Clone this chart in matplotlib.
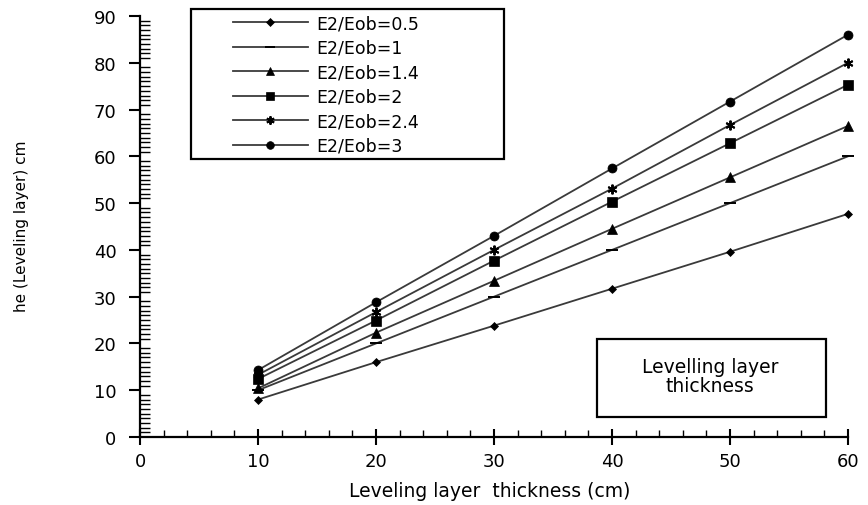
import matplotlib.pyplot as plt
from matplotlib.patches import Rectangle
from matplotlib.ticker import MultipleLocator

plt.rcParams['font.family'] = ['DejaVu Sans']

# Data
thickness = [10, 20, 30, 40, 50, 60]
ratio_labels = ["E2/Eob=0.5", "E2/Eob=1", "E2/Eob=1.4", "E2/Eob=2", "E2/Eob=2.4", "E2/Eob=3"]
he_05 = [8.0, 16.0, 23.8, 31.7, 39.6, 47.7]
he_1 = [10.0, 20.0, 30.0, 40.0, 50.0, 60.0]
he_14 = [10.4, 22.3, 33.4, 44.5, 55.5, 66.5]
he_2 = [12.4, 24.9, 37.7, 50.3, 62.8, 75.3]
he_24 = [13.3, 26.7, 40.0, 53.1, 66.7, 80.0]
he_3 = [14.3, 28.8, 43.0, 57.4, 71.7, 86.0]

series = [he_05, he_1, he_14, he_2, he_24, he_3]
markers = ["D", "_", "^", "s", (6, 2, 0), "o"]
msizes = [4.5, 8, 6.5, 6.5, 7, 6.5]

W, H = 868, 506
fig = plt.figure(figsize=(W / 100, H / 100), dpi=100)
ax = fig.add_axes([140 / W, 1 - 438 / H, 708 / W, 421 / H])

for vals, lab, mk, ms in zip(series, ratio_labels, markers, msizes):
    ax.plot(thickness, vals, color="#3a3a3a", linewidth=1.3, marker=mk,
            markersize=ms, markerfacecolor="black", markeredgecolor="black",
            markeredgewidth=1.4 if mk in ("_", (6, 2, 0)) else 0.5, label=lab,
            clip_on=False)

ax.set_xlim(0, 60)
ax.set_ylim(0, 90)
ax.xaxis.set_major_locator(MultipleLocator(10))
ax.xaxis.set_minor_locator(MultipleLocator(2))
ax.yaxis.set_major_locator(MultipleLocator(10))
ax.yaxis.set_minor_locator(MultipleLocator(1))
ax.tick_params(which='major', width=1.5, labelsize=13)
ax.tick_params(axis='y', which='major', direction='out', length=8, pad=9)
ax.tick_params(axis='x', which='major', direction='inout', length=12, pad=5)
ax.tick_params(axis='y', which='minor', direction='in', length=7, width=1.0)
ax.tick_params(axis='x', which='minor', direction='in', length=5, width=1.0)

for side in ("top", "right"):
    ax.spines[side].set_visible(False)
for side in ("left", "bottom"):
    ax.spines[side].set_linewidth(1.6)

ax.set_xlabel("Leveling layer  thickness (cm)", fontsize=13.5)
ax.xaxis.set_label_coords(490 / W, 1 - 482 / H, transform=fig.transFigure)
ax.set_ylabel("he (Leveling layer) cm", fontsize=11, va='center')
ax.yaxis.set_label_coords(22 / W, 1 - 226 / H, transform=fig.transFigure)

# legend: frame drawn as a separate rectangle to match the wide box
ax.add_patch(Rectangle((191 / W, 1 - 160 / H), 313 / W, 150 / H, transform=fig.transFigure,
                       facecolor='white', edgecolor='black', linewidth=1.6, zorder=4,
                       clip_on=False))
leg = ax.legend(loc='upper left', bbox_to_anchor=(233 / W, 1 - 15 / H),
                bbox_transform=fig.transFigure, borderaxespad=0, borderpad=0,
                fontsize=12.5, handlelength=4.3, handletextpad=0.5,
                labelspacing=0.38, frameon=False, markerscale=0.85)
leg.set_zorder(6)

# annotation box
ax.add_patch(Rectangle((597 / W, 1 - 418 / H), 229 / W, 78 / H, transform=fig.transFigure,
                       facecolor='white', edgecolor='black', linewidth=1.6, zorder=4,
                       clip_on=False))
ax.text(710 / W, 1 - 377 / H, "Levelling layer\nthickness", transform=fig.transFigure,
        ha='center', va='center', fontsize=13.5, linespacing=1.05, zorder=6)

fig.savefig("out.png", dpi=100)
